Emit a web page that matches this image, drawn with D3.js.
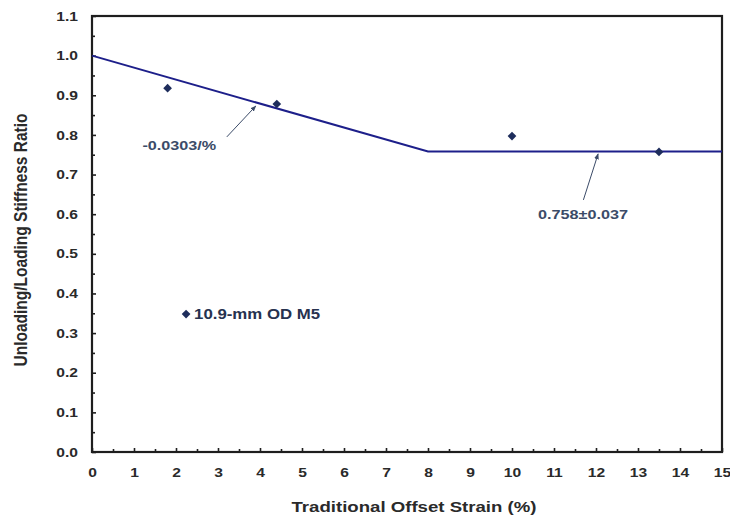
<!DOCTYPE html>
<html>
<head>
<meta charset="utf-8">
<script src="https://cdn.jsdelivr.net/npm/d3@7"></script>
<style>
  html, body { margin: 0; padding: 0; background: #fff; }
  svg { display: block; font-family: "Liberation Sans", Arial, sans-serif; }
</style>
</head>
<body>
<svg id="chart" width="730" height="517"></svg>
<script>
// Measured specimens: offset strain (%) vs stiffness ratio
const strainPct = [1.8, 4.4, 10.0, 13.5];
const stiffRatio = [0.918, 0.878, 0.797, 0.757];

// Bilinear fit: linear drop of -0.0303/% until 8 %, then plateau 0.758
const fitStrain = [0, 8, 15];
const fitRatio = [1.0, 0.758, 0.758];

const xTicks = [0,1,2,3,4,5,6,7,8,9,10,11,12,13,14,15];
const yTicks = [0,0.1,0.2,0.3,0.4,0.5,0.6,0.7,0.8,0.9,1.0,1.1];
const seriesName = "10.9-mm OD M5";
const slopeLabel = "-0.0303/%";
const plateauLabel = "0.758\u00b10.037";

const svg = d3.select("#chart");
const m = { left: 92, right: 8, top: 16, bottom: 65 };
const W = 730, H = 517;
const WIDEN = 1.2; // horizontal glyph widening used for all labels

const x = d3.scaleLinear().domain([0, 15]).range([m.left, W - m.right]);
const y = d3.scaleLinear().domain([0, 1.1]).range([H - m.bottom, m.top]);

const axisCol = "#1e1e1e";
const navy = "#1d1f8a";
const markCol = "#1e2d5c";
const noteCol = "#3b4b68";

// widen a horizontal text element by stretching its glyphs
function widen(sel) {
  sel.each(function () {
    const len = this.getComputedTextLength();
    d3.select(this).attr("textLength", len * WIDEN).attr("lengthAdjust", "spacingAndGlyphs");
  });
}

// frame
svg.append("rect")
  .attr("x", x(0)).attr("y", y(1.1))
  .attr("width", x(15) - x(0)).attr("height", y(0) - y(1.1))
  .attr("fill", "none").attr("stroke", axisCol).attr("stroke-width", 2.2);

// x axis: inward major + minor ticks
const xAxis = svg.append("g").attr("transform", `translate(0,${y(0)})`);
xAxis.call(d3.axisBottom(x).tickValues(xTicks).tickSize(-4).tickPadding(16).tickFormat(d3.format("d")));
xAxis.append("g").call(d3.axisBottom(x).tickValues(d3.range(0.5, 15, 1)).tickSize(-3).tickFormat(""));
xAxis.selectAll(".domain").remove();

// y axis
const yAxis = svg.append("g").attr("transform", `translate(${x(0)},0)`);
yAxis.call(d3.axisLeft(y).tickValues(yTicks).tickSize(-4).tickPadding(14).tickFormat(d3.format(".1f")));
yAxis.append("g").call(d3.axisLeft(y).tickValues(d3.range(0.05, 1.1, 0.1)).tickSize(-3).tickFormat(""));
yAxis.selectAll(".domain").remove();

svg.selectAll(".tick line").attr("stroke", axisCol).attr("stroke-width", 1.6);
svg.selectAll(".tick text")
  .attr("fill", "#2a2a2a").attr("font-size", 13).attr("font-weight", "bold")
  .attr("font-family", "Liberation Sans, Arial, sans-serif")
  .call(widen);

// axis titles
svg.append("text")
  .attr("x", 414).attr("y", 512)
  .attr("text-anchor", "middle").attr("font-size", 15.5).attr("font-weight", "bold").attr("fill", "#2a2a2a")
  .text("Traditional Offset Strain (%)")
  .call(widen);
svg.append("text")
  .attr("transform", `translate(27,240) rotate(-90) scale(1,${WIDEN})`)
  .attr("text-anchor", "middle").attr("font-size", 15.5).attr("font-weight", "bold").attr("fill", "#2a2a2a")
  .text("Unloading/Loading Stiffness Ratio");

// fit line
const line = d3.line().x((d, i) => x(fitStrain[i])).y(d => y(d));
svg.append("path").datum(fitRatio)
  .attr("d", line).attr("fill", "none").attr("stroke", navy).attr("stroke-width", 2);

// data markers (diamonds = squares turned 45 degrees)
const diamond = d3.symbol().type(d3.symbolSquare).size(38);
svg.selectAll(".pt").data(strainPct).join("path")
  .attr("class", "pt")
  .attr("transform", (d, i) => `translate(${x(d)},${y(stiffRatio[i])}) rotate(45)`)
  .attr("d", diamond).attr("fill", markCol);

// legend
const lgX = x(2.24), lgY = y(0.348);
svg.append("path").attr("transform", `translate(${lgX},${lgY}) rotate(45)`).attr("d", diamond).attr("fill", markCol);
svg.append("text").attr("x", lgX + 8).attr("y", lgY + 5)
  .attr("font-size", 14).attr("font-weight", "bold").attr("fill", "#27324f")
  .text(seriesName)
  .call(widen);

// annotations with arrows
const defs = svg.append("defs");
defs.append("marker").attr("id", "ah").attr("viewBox", "0 0 10 10")
  .attr("refX", 9).attr("refY", 5).attr("markerWidth", 6).attr("markerHeight", 6)
  .attr("orient", "auto")
  .append("path").attr("d", "M0,1 L10,5 L0,9 Z").attr("fill", noteCol);

function note(label, tx, ty, fromX, fromY, toX, toY) {
  svg.append("line")
    .attr("x1", x(fromX)).attr("y1", y(fromY)).attr("x2", x(toX)).attr("y2", y(toY))
    .attr("stroke", noteCol).attr("stroke-width", 1).attr("marker-end", "url(#ah)");
  svg.append("text").attr("x", x(tx)).attr("y", y(ty))
    .attr("font-size", 13.5).attr("font-weight", "bold").attr("fill", noteCol)
    .text(label)
    .call(widen);
}
note(slopeLabel, 1.2, 0.762, 3.21, 0.795, 3.9, 0.873);
note(plateauLabel, 10.62, 0.588, 11.7, 0.636, 12.05, 0.752);
</script>
</body>
</html>
